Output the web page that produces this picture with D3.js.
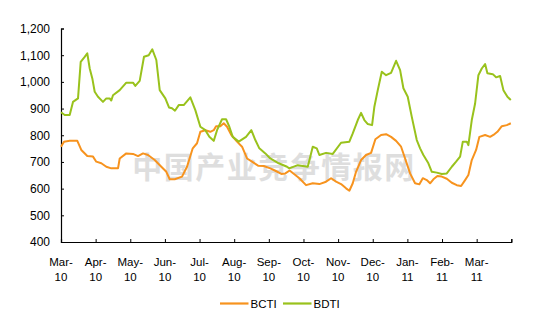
<!DOCTYPE html>
<html>
<head>
<meta charset="utf-8">
<script src="https://cdn.jsdelivr.net/npm/d3@7"></script>
<style>
  html, body { margin: 0; padding: 0; background: #fff; }
  svg { display: block; font-family: "Liberation Sans", Arial, sans-serif; }
</style>
</head>
<body>
<svg id="chart" width="550" height="333"></svg>
<script>
// Month labels along the bottom (one per tick, last tick unlabeled)
const monthLabels = ["Mar-10","Apr-10","May-10","Jun-10","Jul-10","Aug-10","Sep-10",
                     "Oct-10","Nov-10","Dec-10","Jan-11","Feb-11","Mar-11"];
const yTicks = [400, 500, 600, 700, 800, 900, 1000, 1100, 1200];
const seriesNames = ["BCTI", "BDTI"];

// Time positions are months elapsed since the start of March 2010
const bctiT = [0,0.087,0.251,0.471,0.586,0.759,0.924,1.019,1.164,1.308,1.452,1.646,1.695,1.885,2.079,2.223,2.368,2.512,2.706,2.896,3.041,3.139,3.283,3.494,3.638,3.803,3.927,4.023,4.167,4.311,4.409,4.476,4.6,4.698,4.794,4.918,5.082,5.227,5.371,5.515,5.689,5.853,6.044,6.188,6.362,6.477,6.6,6.882,7.075,7.268,7.459,7.652,7.797,7.941,8.085,8.23,8.325,8.423,8.518,8.663,8.807,8.952,9.076,9.241,9.385,9.529,9.674,9.818,9.934,10.078,10.222,10.347,10.445,10.56,10.656,10.751,10.867,10.993,11.138,11.282,11.427,11.551,11.666,11.761,11.859,11.984,12.079,12.244,12.388,12.484,12.599,12.726,12.87,12.986];
const bctiV = [757,776,779,779,745,722,720,701,695,682,676,676,713,732,730,722,732,726,707,682,663,635,635,645,682,751,770,813,819,813,819,834,834,845,832,801,776,757,713,701,686,685,676,667,655,657,668,639,613,620,617,626,639,626,617,601,592,620,663,707,726,734,785,801,804,794,779,757,713,657,620,616,639,632,620,635,647,645,637,622,613,610,632,651,707,745,794,801,794,801,813,834,838,845];

const bdtiT = [0,0.107,0.251,0.346,0.491,0.569,0.684,0.759,0.829,0.904,0.973,1.068,1.212,1.308,1.406,1.452,1.501,1.695,1.885,2.079,2.145,2.272,2.396,2.532,2.636,2.752,2.85,3.012,3.118,3.205,3.29,3.399,3.543,3.734,3.878,4.023,4.167,4.282,4.409,4.505,4.649,4.765,4.86,4.958,5.131,5.342,5.495,5.61,5.726,5.899,6.042,6.285,6.525,6.59,6.835,6.979,7.124,7.268,7.384,7.459,7.652,7.846,8.085,8.325,8.423,8.568,8.663,8.758,8.857,8.981,9.047,9.145,9.261,9.385,9.529,9.674,9.79,9.885,10.01,10.127,10.271,10.367,10.462,10.606,10.705,10.849,10.993,11.138,11.282,11.406,11.522,11.6,11.715,11.761,11.859,11.955,12.05,12.148,12.244,12.31,12.466,12.561,12.677,12.772,12.888,12.986];
const bdtiV = [886,876,876,925,938,1075,1094,1107,1050,1013,963,944,925,938,938,930,950,969,997,997,985,1004,1094,1100,1122,1082,969,938,904,901,892,913,913,942,894,832,819,794,779,819,860,860,832,794,776,794,819,782,751,732,713,695,682,676,688,685,682,757,751,726,734,730,772,776,807,857,884,857,842,838,907,969,1038,1025,1034,1079,1044,976,944,869,782,751,726,695,663,660,655,657,682,701,720,776,776,763,857,919,1025,1050,1067,1032,1029,1017,1022,969,944,932];

const colors = { BCTI: "#F7931E", BDTI: "#99C21C" };

const svg = d3.select("#chart");
const plotLeft = 61, plotRight = 511.3, plotTop = 28.5, plotBottom = 242;

const x = d3.scaleLinear().domain([0, 13]).range([plotLeft, plotRight]);
const y = d3.scaleLinear().domain([400, 1200]).range([plotBottom, plotTop]);

// Faint site watermark behind the lines
svg.append("text")
  .attr("x", 274).attr("y", 178)
  .attr("text-anchor", "middle")
  .attr("font-family", "'Noto Sans CJK SC', sans-serif")
  .attr("font-weight", "bold")
  .attr("font-size", 30)
  .attr("letter-spacing", 1.5)
  .attr("fill", "#dedede")
  .text("中国产业竞争情报网");

// Y axis with inward ticks
const yAxis = svg.append("g")
  .attr("transform", `translate(${plotLeft},0)`)
  .call(d3.axisLeft(y).tickValues(yTicks).tickSize(-3).tickPadding(11)
        .tickFormat(d3.format(",")));
yAxis.select(".domain").attr("stroke", "#000").attr("stroke-width", 1.2);
yAxis.selectAll(".tick line").attr("stroke", "#000");
yAxis.selectAll(".tick text").attr("font-size", 12).attr("fill", "#000")
  .attr("font-family", "'Liberation Sans', Arial, sans-serif");

// X axis: month ticks, labels split onto two lines
const xAxis = svg.append("g")
  .attr("transform", `translate(0,${plotBottom})`)
  .call(d3.axisBottom(x).tickValues(d3.range(0, 14)).tickSize(-3).tickFormat(() => ""));
xAxis.select(".domain").attr("stroke", "#000").attr("stroke-width", 1.2);
xAxis.selectAll(".tick line").attr("stroke", "#000");

const labelG = svg.append("g").attr("font-size", 11.5).attr("fill", "#000")
  .attr("text-anchor", "middle");
monthLabels.forEach((lab, i) => {
  const [m, yr] = lab.split("-");
  const t = labelG.append("text").attr("x", x(i));
  t.append("tspan").attr("x", x(i)).attr("y", plotBottom + 23.5).text(m + "-");
  t.append("tspan").attr("x", x(i)).attr("y", plotBottom + 38.5).text(yr);
});

// Series lines
const line = d3.line().x(d => x(d[0])).y(d => y(d[1]));
const series = [
  { name: "BCTI", pts: d3.zip(bctiT, bctiV) },
  { name: "BDTI", pts: d3.zip(bdtiT, bdtiV) }
];
series.forEach(s => {
  svg.append("path")
    .datum(s.pts)
    .attr("fill", "none")
    .attr("stroke", colors[s.name])
    .attr("stroke-width", 2)
    .attr("stroke-linejoin", "round")
    .attr("d", line);
});

// Legend
const legendX = [220, 283];
const legend = svg.append("g").attr("font-size", 11.5).attr("fill", "#000");
seriesNames.forEach((name, i) => {
  legend.append("line")
    .attr("x1", legendX[i]).attr("x2", legendX[i] + 28.5)
    .attr("y1", 303.5).attr("y2", 303.5)
    .attr("stroke", colors[name]).attr("stroke-width", 2.2);
  legend.append("text")
    .attr("x", legendX[i] + 30.5).attr("y", 307.5)
    .text(name);
});
</script>
</body>
</html>
